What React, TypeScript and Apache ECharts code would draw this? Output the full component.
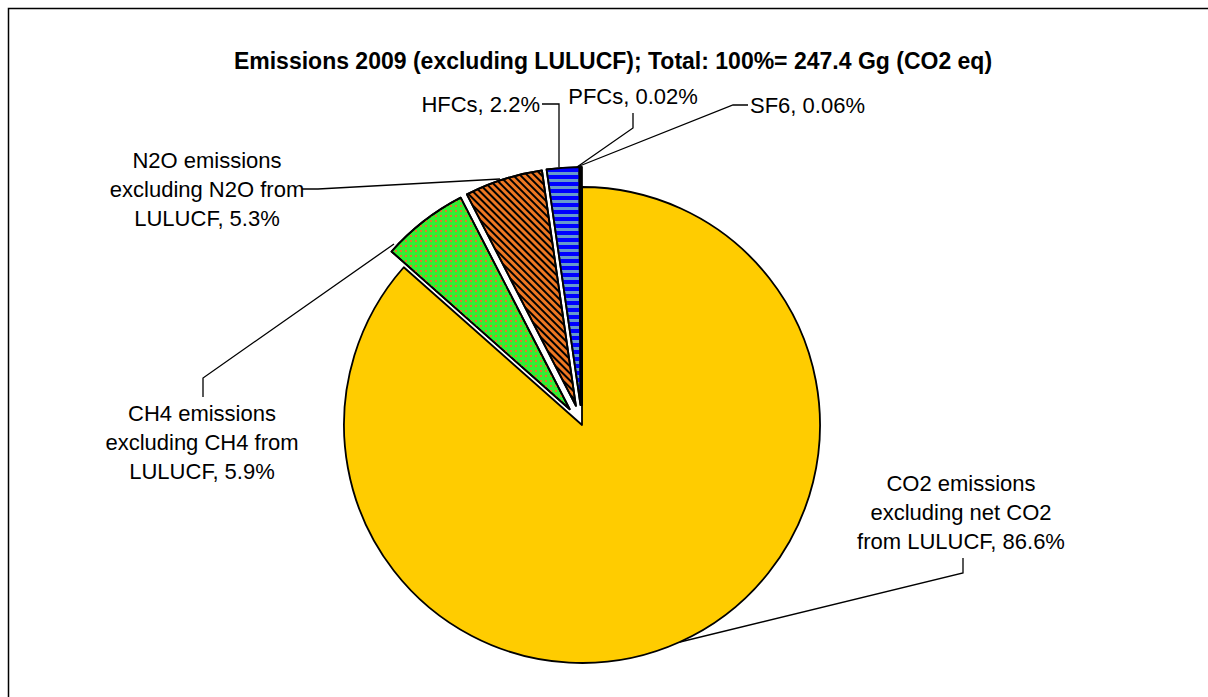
import React, { useEffect, useRef } from 'react';
import * as echarts from 'echarts';

// ---- data ----
const categories: string[] = [
  'CO2 emissions\nexcluding net CO2\nfrom LULUCF',
  'CH4 emissions\nexcluding CH4 from\nLULUCF',
  'N2O emissions\nexcluding N2O from\nLULUCF',
  'HFCs',
  'PFCs',
  'SF6',
];
const shares: number[] = [86.6, 5.9, 5.3, 2.2, 0.02, 0.06];
const titleText = 'Emissions 2009 (excluding LULUCF); Total: 100%= 247.4 Gg (CO2 eq)';

// ---- styling / layout (not data) ----
const pieCenter = [582, 425];
const pieRadius = 238;
const explodeOffset = 20;
const sliceColors = ['#FFCC00', '#33EE33', '#EE7722', '#6699CC', '#9999FF', '#993366'];
const exploded = [false, true, true, true, true, true];
const decals: any[] = [
  null,
  { symbol: 'rect', color: '#E8752A', dashArrayX: [1.5, 2.5], dashArrayY: [1.5, 2.5], symbolSize: 1 },
  { symbol: 'rect', color: '#000000', dashArrayX: [1, 0], dashArrayY: [2, 2.2], rotation: Math.PI / 4, symbolSize: 1 },
  { symbol: 'rect', color: '#0000FF', dashArrayX: [1, 0], dashArrayY: [4, 3], rotation: 0, symbolSize: 1 },
  null,
  null,
];
const labelPlacement: any[] = [
  { x: 961, y: 512, align: 'center', line: [[963, 558], [963, 573], [680, 642]] },
  { x: 202, y: 442, align: 'center', line: [[203, 397], [203, 378], [394, 244]] },
  { x: 207, y: 189, align: 'center', line: [[302, 189], [318, 189], [500, 179]] },
  { x: 540, y: 104, align: 'right', line: [[542, 104], [559, 104], [559, 167]] },
  { x: 633, y: 96, align: 'center', line: [[633, 113], [633, 128], [577, 167]] },
  { x: 750, y: 105, align: 'left', line: [[748, 105], [733, 105], [577, 167]] },
];

export default function App() {
  const ref = useRef<HTMLDivElement>(null);
  useEffect(() => {
    if (!ref.current) return;
    const chart = echarts.init(ref.current, undefined, { renderer: 'svg' });
    const font = '"Liberation Sans", Arial, sans-serif';
    const total = shares.reduce((a, b) => a + b, 0);
    let cum = 0;
    // one pie series per slice (same angles), each shifted along its own mid-angle to "explode" it
    const series = categories.map((_, i) => {
      const mid = ((cum + shares[i] / 2) / total) * 2 * Math.PI;
      cum += shares[i];
      const off = exploded[i] ? explodeOffset : 0;
      const cx = pieCenter[0] + off * Math.sin(mid);
      const cy = pieCenter[1] - off * Math.cos(mid);
      return {
        type: 'pie',
        silent: true,
        center: [cx, cy],
        radius: pieRadius,
        startAngle: 90,
        clockwise: true,
        avoidLabelOverlap: false,
        minAngle: 0,
        emphasis: { disabled: true },
        itemStyle: { borderColor: '#000', borderWidth: 1.8 },
        label: {
          show: true,
          position: 'outside',
          fontFamily: font,
          fontSize: 22,
          lineHeight: 29,
          color: '#000',
          align: 'center',
          formatter: (p: any) => `${p.name}, ${p.value}%`,
        },
        labelLine: { show: true, lineStyle: { color: '#000', width: 1.3 } },
        labelLayout: (p: any) => {
          const cfg = labelPlacement[p.dataIndex];
          return {
            x: cfg.x,
            y: cfg.y,
            align: cfg.align,
            verticalAlign: 'middle',
            labelLinePoints: cfg.line,
          };
        },
        data: categories.map((name, j) =>
          j === i
            ? {
                name,
                value: shares[j],
                itemStyle: { color: sliceColors[j], ...(decals[j] ? { decal: decals[j] } : {}) },
              }
            : {
                name,
                value: shares[j],
                itemStyle: { color: 'transparent', borderWidth: 0 },
                label: { show: false },
                labelLine: { show: false },
              }
        ),
      };
    });
    chart.setOption({
      animation: false,
      backgroundColor: '#ffffff',
      title: {
        text: titleText,
        left: 608,
        top: 44,
        textAlign: 'center',
        textStyle: { fontFamily: font, fontSize: 23, fontWeight: 'bold', color: '#000' },
      },
      graphic: [
        {
          type: 'rect',
          silent: true,
          z: -10,
          shape: { x: 8.5, y: 8.5, width: 1400, height: 900 },
          style: { fill: 'none', stroke: '#000', lineWidth: 1.5 },
        },
      ],
      series,
    });
    return () => chart.dispose();
  }, []);
  return (
    <div
      ref={ref}
      style={{ position: 'absolute', left: 0, top: 0, width: 1208, height: 697 }}
    />
  );
}
